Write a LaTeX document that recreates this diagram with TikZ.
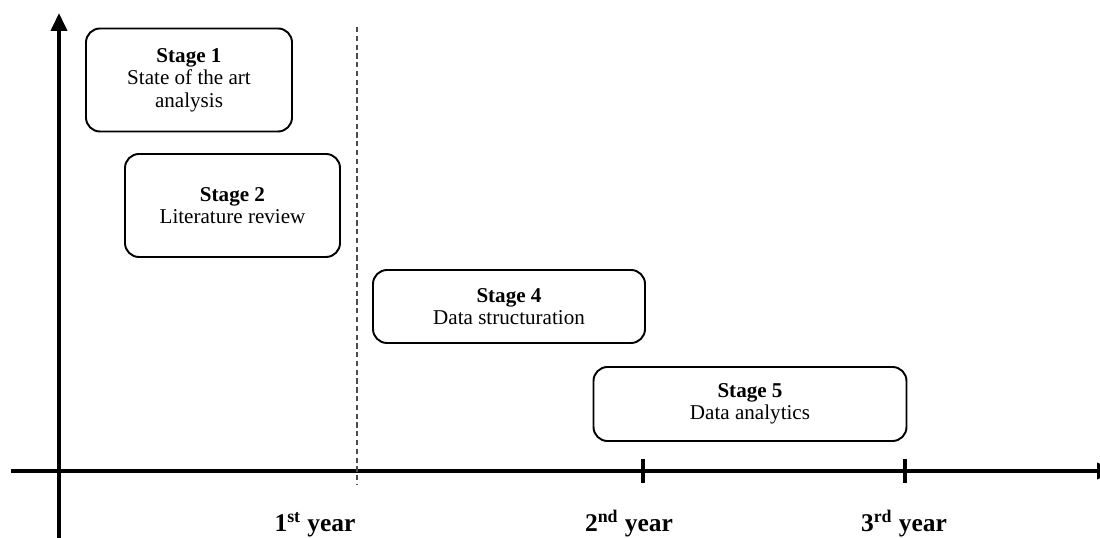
\documentclass[tikz,border=0pt]{standalone}
\usepackage{fontspec}
\setmainfont{Liberation Serif}
\usetikzlibrary{arrows.meta}

\tikzset{
    stagebox/.style={draw, line width=1.1pt, rounded corners=0.28cm, align=center,
        inner sep=0pt, font=\fontsize{12}{12.8}\selectfont},
    axisline/.style={line width=2.2pt},
    yearlabel/.style={anchor=base, font=\fontsize{14.5}{16}\selectfont\bfseries},
}

\begin{document}
\begin{tikzpicture}
    \useasboundingbox (0cm, 0cm) rectangle (22cm, 10.74cm);

    % axes
    \coordinate (o) at (1.18cm, 1.32cm);
    \coordinate (ybot) at (1.18cm, -0.2cm);
    \coordinate (ytop) at (1.18cm, 10.48cm);
    \coordinate (xleft) at (0.22cm, 1.32cm);
    \coordinate (xright) at (22.3cm, 1.32cm);
    \coordinate (d1) at (7.14cm, 10.2cm);
    \coordinate (d2) at (7.14cm, 1.04cm);
    \coordinate (t2a) at (12.86cm, 1.56cm);
    \coordinate (t2b) at (12.86cm, 1.08cm);
    \coordinate (t3a) at (18.1cm, 1.56cm);
    \coordinate (t3b) at (18.1cm, 1.08cm);

    \node (s1) [stagebox, minimum width=4.12cm, minimum height=2.06cm] at (3.78cm, 9.14cm)
        {\textbf{Stage 1}\\State of the art\\analysis};
    \node (s2) [stagebox, minimum width=4.3cm, minimum height=2.06cm] at (4.65cm, 6.63cm)
        {\textbf{Stage 2}\\Literature review};
    \node (s4) [stagebox, minimum width=5.44cm, minimum height=1.46cm] at (10.18cm, 4.61cm)
        {\textbf{Stage 4}\\Data structuration};
    \node (s5) [stagebox, minimum width=6.26cm, minimum height=1.48cm] at (15.0cm, 2.66cm)
        {\textbf{Stage 5}\\Data analytics};

    \node (y1) [yearlabel] at (6.3cm, 0.1cm) {1\textsuperscript{st} year};
    \node (y2) [yearlabel] at (12.58cm, 0.1cm) {2\textsuperscript{nd} year};
    \node (y3) [yearlabel] at (18.08cm, 0.1cm) {3\textsuperscript{rd} year};

    \draw[axisline, -{Triangle[length=0.36cm, width=0.32cm]}] (ybot) -- (ytop);
    \draw[axisline, -{Triangle[length=0.36cm, width=0.32cm]}] (xleft) -- (xright);
    \draw[axisline] (t2a) -- (t2b);
    \draw[axisline] (t3a) -- (t3b);
    \draw[line width=0.6pt, black!70, dash pattern=on 3pt off 2pt] (d1) -- (d2);
\end{tikzpicture}
\end{document}
